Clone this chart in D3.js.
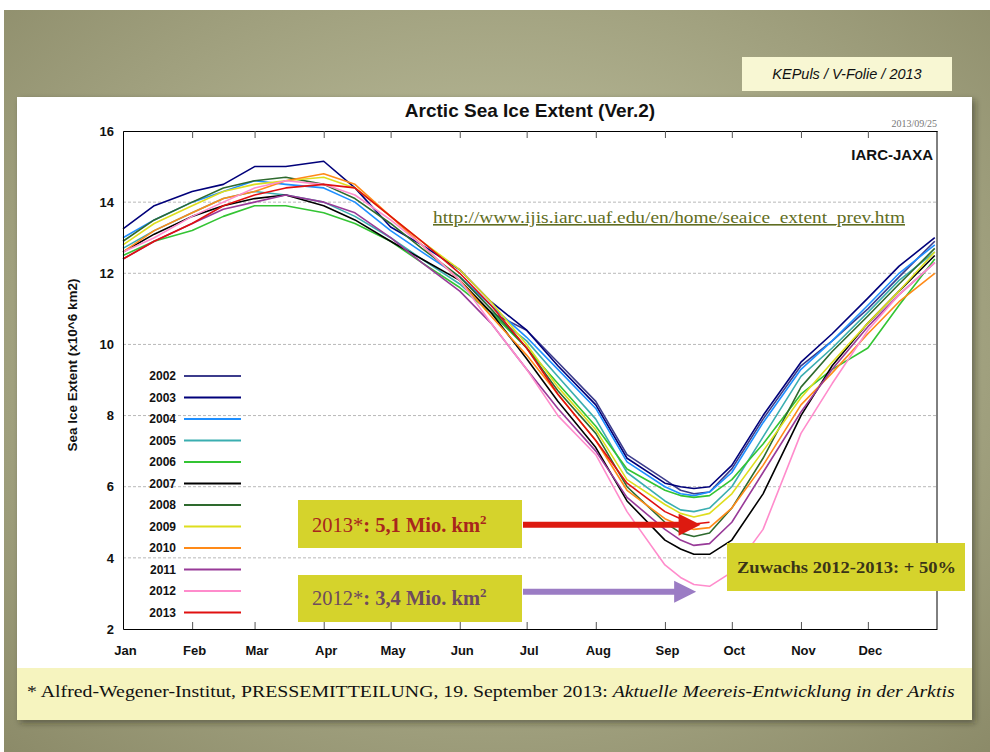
<!DOCTYPE html>
<html><head><meta charset="utf-8">
<script src="https://cdn.jsdelivr.net/npm/d3@7"></script>
<style>body{margin:0;background:#fff}svg{display:block}</style>
</head><body>
<svg id="c" width="990" height="752"></svg>
<script>
// ---------------- DATA ----------------
const months = ["Jan","Feb","Mar","Apr","May","Jun","Jul","Aug","Sep","Oct","Nov","Dec"];
const monthStartDays = [1,32,60,91,121,152,182,213,244,274,305,335];
const yTicks = [2,4,6,8,10,12,14,16];
const sampleDays = [1,15,32,46,60,74,91,105,121,135,152,166,182,196,213,227,244,251,257,264,274,288,305,319,335,349,365];
const years = ["2002","2003","2004","2005","2006","2007","2008","2009","2010","2011","2012","2013"];
const colors = ["#3c3c8c","#00007a","#1e8fff","#3aaeb0","#33c433","#000000","#2e6a2e","#dede1e","#ff8a18","#983a98","#ff8ccc","#e01010"];
const N = null;
const v2002 = [N,N,N,N,N,N,N,N,N,N,N,10.9,10.4,9.5,8.4,6.9,6.2,5.9,5.8,5.85,6.5,7.9,9.4,10.1,11.0,11.9,12.9];
const v2003 = [13.25,13.9,14.3,14.5,15.0,15.0,15.15,14.4,13.3,12.8,12.1,11.2,10.4,9.4,8.3,6.8,6.1,6.0,5.95,6.0,6.6,8.0,9.5,10.3,11.3,12.2,13.0];
const v2004 = [13.0,13.5,14.0,14.3,14.6,14.5,14.4,14.0,13.2,12.6,11.9,11.1,10.2,9.3,8.2,6.7,6.0,5.8,5.75,5.85,6.4,7.8,9.3,10.1,11.1,12.0,12.8];
const v2005 = [12.7,13.2,13.7,14.1,14.3,14.2,14.0,13.6,13.0,12.4,11.7,10.9,10.1,9.1,7.9,6.4,5.6,5.35,5.3,5.4,6.0,7.4,9.1,9.9,10.9,11.8,12.6];
const v2006 = [12.5,12.9,13.2,13.6,13.9,13.9,13.7,13.4,12.9,12.3,11.6,10.9,9.9,8.9,7.7,6.5,5.9,5.75,5.7,5.75,6.2,7.2,8.6,9.3,9.9,11.1,12.4];
const v2007 = [12.6,13.1,13.6,13.9,14.1,14.2,13.9,13.5,12.9,12.4,11.8,10.9,9.6,8.4,7.1,5.6,4.5,4.25,4.1,4.1,4.5,5.8,8.0,9.4,10.6,11.5,12.5];
const v2008 = [12.9,13.5,14.0,14.4,14.6,14.7,14.5,14.1,13.4,12.7,11.9,11.0,9.9,8.7,7.5,6.0,5.0,4.7,4.6,4.7,5.4,6.8,8.8,9.8,10.8,11.7,12.7];
const v2009 = [12.8,13.4,13.9,14.3,14.5,14.6,14.7,14.4,13.6,12.9,12.1,11.2,10.0,8.8,7.6,6.2,5.5,5.25,5.15,5.25,5.8,7.0,8.5,9.5,10.6,11.5,12.6];
const v2010 = [12.6,13.2,13.7,14.1,14.3,14.6,14.8,14.5,13.6,12.8,11.8,10.8,9.7,8.6,7.3,5.9,5.1,4.9,4.8,4.85,5.4,6.6,8.3,9.2,10.3,11.2,12.0];
const v2011 = [12.4,12.9,13.4,13.8,14.0,14.2,14.0,13.7,13.0,12.3,11.5,10.6,9.3,8.2,7.0,5.7,4.8,4.5,4.35,4.4,5.0,6.4,8.1,9.3,10.5,11.4,12.3];
const v2012 = [12.6,13.0,13.6,14.0,14.4,14.6,14.5,14.2,13.5,12.8,11.8,10.6,9.3,8.0,6.9,5.3,3.8,3.45,3.25,3.2,3.6,4.8,7.5,8.9,10.4,11.4,12.3];
const v2013 = [12.4,12.9,13.4,13.9,14.2,14.4,14.5,14.4,13.6,12.9,12.0,11.1,9.9,8.6,7.3,6.1,5.3,5.1,4.95,5.0,N,N,N,N,N,N,N];
const series = [v2002,v2003,v2004,v2005,v2006,v2007,v2008,v2009,v2010,v2011,v2012,v2013];
// annotation arrows: [value level, tip day]
const arrow2013 = {value: 4.93, day: 260};
const arrow2012 = {value: 3.05, day: 258};

// ---------------- DRAW ----------------
const svg = d3.select("#c");
const defs = svg.append("defs");
const rg = defs.append("radialGradient").attr("id","bg").attr("cx","50%").attr("cy","45%").attr("r","75%");
rg.append("stop").attr("offset","0%").attr("stop-color","#c9cba9");
rg.append("stop").attr("offset","100%").attr("stop-color","#8b8a68");
const blur = defs.append("filter").attr("id","sh").attr("x","-5%").attr("y","-5%").attr("width","110%").attr("height","110%");
blur.append("feGaussianBlur").attr("stdDeviation",3);

svg.append("rect").attr("width",990).attr("height",752).attr("fill","#fff");
svg.append("rect").attr("x",4).attr("y",10).attr("width",986).attr("height",742).attr("fill","url(#bg)");

// panel
svg.append("rect").attr("x",20).attr("y",100).attr("width",955).attr("height",623).attr("fill","rgba(40,40,20,0.45)").attr("filter","url(#sh)");
svg.append("rect").attr("x",17).attr("y",97).attr("width",955).attr("height",571).attr("fill","#fff");
svg.append("rect").attr("x",17).attr("y",668).attr("width",955).attr("height",52).attr("fill","#f6f4bf");

// KEPuls box
svg.append("rect").attr("x",742).attr("y",57).attr("width",210).attr("height",34).attr("fill","#f8f7d3");
svg.append("text").attr("x",847).attr("y",79).attr("text-anchor","middle")
  .attr("font-family","Liberation Sans, Arial, sans-serif").attr("font-style","italic").attr("font-size",14.5)
  .attr("fill","#111").text("KEPuls / V-Folie / 2013");

const x0=123, x1=937, yTop=131, yBot=629;
const x = d3.scaleLinear().domain([1,366]).range([x0,x1]);
const y = d3.scaleLinear().domain([2,16]).range([yBot,yTop]);

// gridlines
svg.append("g").selectAll("line").data(yTicks.filter(t=>t>2&&t<16)).join("line")
  .attr("x1",x0).attr("x2",x1).attr("y1",d=>y(d)).attr("y2",d=>y(d))
  .attr("stroke","#b8b8b8").attr("stroke-width",1).attr("stroke-dasharray","3,2");

// title and texts
svg.append("text").attr("x",(x0+x1)/2).attr("y",117).attr("text-anchor","middle")
  .attr("font-family","Liberation Sans, Arial, sans-serif").attr("font-weight","bold").attr("font-size",19)
  .attr("fill","#111").text("Arctic Sea Ice Extent (Ver.2)");
svg.append("text").attr("x",x1).attr("y",127).attr("text-anchor","end")
  .attr("font-family","Liberation Serif, serif").attr("font-size",10).attr("fill","#777").text("2013/09/25");
svg.append("text").attr("x",x1-4).attr("y",160).attr("text-anchor","end")
  .attr("font-family","Liberation Sans, Arial, sans-serif").attr("font-weight","bold").attr("font-size",15)
  .attr("fill","#111").text("IARC-JAXA");
svg.append("text").attr("x",433).attr("y",223)
  .attr("font-family","Liberation Serif, serif").attr("font-size",16).attr("fill","#5f6d22")
  .attr("text-decoration","underline").attr("textLength",472).attr("lengthAdjust","spacingAndGlyphs")
  .text("http://www.ijis.iarc.uaf.edu/en/home/seaice_extent_prev.htm");

// lines
const line = d3.line().defined(d=>d.v!==null).x(d=>x(d.d)).y(d=>y(d.v)).curve(d3.curveLinear);
const g = svg.append("g");
series.forEach((s,i)=>{
  const pts = sampleDays.map((d,j)=>({d:d, v:s[j]}));
  g.append("path").datum(pts).attr("d",line).attr("fill","none")
   .attr("stroke",colors[i]).attr("stroke-width",1.6).attr("stroke-linejoin","round");
});

// axes
const xb = d3.axisBottom(x).tickValues(monthStartDays).tickFormat((d,i)=>months[i]).tickSizeInner(-7).tickSizeOuter(0).tickPadding(17);
const gx = svg.append("g").attr("transform",`translate(0,${yBot})`).call(xb);
gx.selectAll("text").attr("font-family","Liberation Sans, Arial, sans-serif").attr("font-weight","bold").attr("font-size",13).attr("fill","#111").attr("dx",2);
const xt = d3.axisTop(x).tickValues(monthStartDays).tickFormat("").tickSizeInner(-7).tickSizeOuter(0);
svg.append("g").attr("transform",`translate(0,${yTop})`).call(xt);
const yl = d3.axisLeft(y).tickValues(yTicks).tickSize(0).tickPadding(9);
const gy = svg.append("g").attr("transform",`translate(${x0},0)`).call(yl);
gy.selectAll("text").attr("font-family","Liberation Sans, Arial, sans-serif").attr("font-weight","bold").attr("font-size",13).attr("fill","#111");
svg.append("line").attr("x1",x1).attr("x2",x1).attr("y1",yTop).attr("y2",yBot).attr("stroke","#000");
svg.selectAll(".domain").attr("stroke","#000");
svg.selectAll(".tick line").attr("stroke","#555");

svg.append("text").attr("transform",`translate(77,${(yTop+yBot)/2-15}) rotate(-90)`).attr("text-anchor","middle")
  .attr("font-family","Liberation Sans, Arial, sans-serif").attr("font-weight","bold").attr("font-size",13.5)
  .attr("fill","#111").text("Sea Ice Extent (x10^6 km2)");

// legend
const lg = svg.append("g");
years.forEach((yr,i)=>{
  const yy = 376 + i*21.5;
  lg.append("text").attr("x",176).attr("y",yy+4).attr("text-anchor","end")
    .attr("font-family","Liberation Sans, Arial, sans-serif").attr("font-weight","bold").attr("font-size",12)
    .attr("fill","#111").text(yr);
  lg.append("line").attr("x1",184).attr("x2",241).attr("y1",yy).attr("y2",yy)
    .attr("stroke",colors[i]).attr("stroke-width",2.2);
});

// annotation boxes & arrows
function arrow(a, col, startX){
  const ty = y(a.value), tx = x(a.day);
  const p = d3.path();
  p.moveTo(startX, ty-3); p.lineTo(tx-22, ty-3); p.lineTo(tx-22, ty-11); p.lineTo(tx, ty);
  p.lineTo(tx-22, ty+11); p.lineTo(tx-22, ty+3); p.lineTo(startX, ty+3); p.closePath();
  svg.append("path").attr("d",p.toString()).attr("fill",col);
}
const boxFill = "#d5d32c";
svg.append("rect").attr("x",298).attr("y",500).attr("width",224).attr("height",48).attr("fill",boxFill);
svg.append("rect").attr("x",298).attr("y",575).attr("width",224).attr("height",47).attr("fill",boxFill);
arrow(arrow2013, "#dd1a10", 523);
arrow(arrow2012, "#9b7cc4", 523);

const t1 = svg.append("text").attr("x",312).attr("y",532).attr("font-family","Liberation Serif, serif").attr("font-size",20.5).attr("fill","#a8261c");
t1.append("tspan").text("2013*");
t1.append("tspan").attr("font-weight","bold").text(": 5,1 Mio. km");
t1.append("tspan").attr("font-weight","bold").attr("font-size",13).attr("dy",-8).text("2");
const t2 = svg.append("text").attr("x",312).attr("y",605).attr("font-family","Liberation Serif, serif").attr("font-size",20.5).attr("fill","#6e4b5e");
t2.append("tspan").text("2012*");
t2.append("tspan").attr("font-weight","bold").text(": 3,4 Mio. km");
t2.append("tspan").attr("font-weight","bold").attr("font-size",13).attr("dy",-8).text("2");

svg.append("rect").attr("x",727).attr("y",543).attr("width",238).attr("height",48).attr("fill",boxFill);
svg.append("text").attr("x",737).attr("y",573).attr("font-family","Liberation Serif, serif").attr("font-weight","bold")
  .attr("font-size",16.5).attr("fill","#3a3418").attr("textLength",219).attr("lengthAdjust","spacingAndGlyphs")
  .text("Zuwachs 2012-2013: + 50%");

// footnote
const fn = svg.append("text").attr("x",27).attr("y",697).attr("font-family","Liberation Serif, serif").attr("font-size",16.5).attr("fill","#111");
fn.append("tspan").text("* Alfred-Wegener-Institut, PRESSEMITTEILUNG, 19. September 2013: ");
fn.append("tspan").attr("font-style","italic").text("Aktuelle Meereis-Entwicklung in der Arktis");
const fw = fn.node().getComputedTextLength();
fn.attr("transform",`translate(27,0) scale(${928/fw},1) translate(-27,0)`);
</script>
</body></html>
